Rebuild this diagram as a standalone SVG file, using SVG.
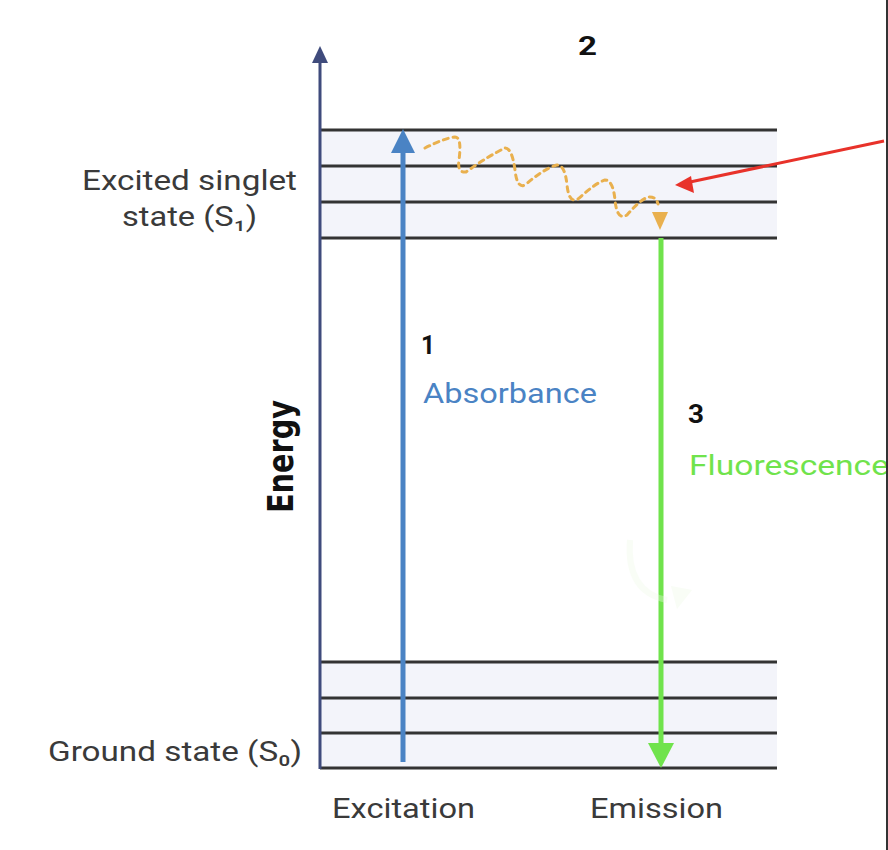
<svg xmlns="http://www.w3.org/2000/svg" width="888" height="850" viewBox="0 0 888 850">
<defs>
<style>
.lbl{font-family:Roboto,"Liberation Sans","DejaVu Sans",sans-serif;font-size:27px;fill:#3a3a3a}
.num{font-family:Roboto,"Liberation Sans",sans-serif;font-size:26px;font-weight:bold;fill:#111}
.lvl{stroke:#333;stroke-width:3;fill:none}
.band{fill:#f3f4fa}
</style>
</defs>
<rect width="888" height="850" fill="#ffffff"/>
<g id="bands">
<rect class="band" x="320" y="130" width="457" height="108"/>
<rect class="band" x="320" y="662" width="457" height="107"/>
</g>
<g id="levels">
<line class="lvl" x1="320" y1="130" x2="777" y2="130"/>
<line class="lvl" x1="320" y1="166" x2="777" y2="166"/>
<line class="lvl" x1="320" y1="202" x2="777" y2="202"/>
<line class="lvl" x1="320" y1="238" x2="777" y2="238"/>
<line class="lvl" x1="320" y1="662" x2="777" y2="662"/>
<line class="lvl" x1="320" y1="698" x2="777" y2="698"/>
<line class="lvl" x1="320" y1="733" x2="777" y2="733"/>
<line class="lvl" x1="320" y1="768" x2="777" y2="768"/>
</g>
<g id="axis">
<line x1="320" y1="58" x2="320" y2="769" stroke="#3f4b7c" stroke-width="3"/>
<polygon points="320,46 312,63 328,63" fill="#3f4b7c"/>
</g>
<g id="connectors">
<g id="absorbance-arrow">
<line x1="403" y1="762" x2="403" y2="150" stroke="#4a83c4" stroke-width="5"/>
<polygon points="403,129 391,153 415,153" fill="#4a83c4"/>
</g>
<g id="fluorescence-arrow">
<line x1="661" y1="238" x2="661" y2="746" stroke="#70e34c" stroke-width="5"/>
<polygon points="661,768 648,743 674,743" fill="#70e34c"/>
</g>
<g id="relaxation">
<path d="M425,148 Q445,138 455,137 Q462,137 459,160 Q457,173 466,172 Q490,155 505,148 Q512,148 515,170 Q517,189 525,185 Q545,168 557,165 Q565,165 567,185 Q569,204 578,199 Q597,182 605,180 Q613,180 615,200 Q617,221 627,215 Q640,200 648,197 Q656,196 658,204" fill="none" stroke="#e9b04e" stroke-width="3" stroke-dasharray="5 5" stroke-linecap="round"/>
<polygon points="652,212 668,212 660,230" fill="#e9b04e"/>
</g>
<g id="pointer">
<line x1="884" y1="141" x2="690" y2="182" stroke="#e8322a" stroke-width="3"/>
<polygon points="675,185 691,176 694,193" fill="#e8322a"/>
</g>
<g id="faint-arc" opacity="0.35">
<path d="M630,540 Q626,592 667,600" fill="none" stroke="#eefbe6" stroke-width="6"/>
<polygon points="671,586 692,590 677,609" fill="#eefbe6"/>
</g>
</g>
<g id="label-excited">
<text class="lbl" x="82" y="190" textLength="215" lengthAdjust="spacingAndGlyphs">Excited singlet</text>
<text class="lbl" x="122" y="226" textLength="135" lengthAdjust="spacingAndGlyphs">state (S₁)</text>
</g>
<g id="label-ground">
<text class="lbl" x="48" y="761" textLength="254" lengthAdjust="spacingAndGlyphs">Ground state (S₀)</text>
</g>
<g id="label-energy">
<text transform="translate(293,513) scale(1.22,1) rotate(-90)" font-family="'DejaVu Sans',sans-serif" font-weight="bold" font-size="28.5" fill="#111" textLength="113" lengthAdjust="spacingAndGlyphs">Energy</text>
</g>
<g id="label-excitation">
<text class="lbl" x="332" y="818" textLength="143" lengthAdjust="spacingAndGlyphs">Excitation</text>
</g>
<g id="label-emission">
<text class="lbl" x="590" y="818" textLength="133" lengthAdjust="spacingAndGlyphs">Emission</text>
</g>
<g id="step1">
<text class="num" x="421" y="354" textLength="14" lengthAdjust="spacingAndGlyphs">1</text>
<text class="lbl" x="423" y="403" textLength="174" lengthAdjust="spacingAndGlyphs" style="fill:#4a83c4">Absorbance</text>
</g>
<g id="step2">
<text class="num" x="578" y="55" textLength="19" lengthAdjust="spacingAndGlyphs">2</text>
</g>
<g id="step3">
<text class="num" x="688" y="423" textLength="16" lengthAdjust="spacingAndGlyphs">3</text>
<text class="lbl" x="689" y="475" textLength="200" lengthAdjust="spacingAndGlyphs" style="fill:#70e34c">Fluorescence</text>
</g>
<line x1="887" y1="0" x2="887" y2="850" stroke="#333" stroke-width="2"/>
</svg>
